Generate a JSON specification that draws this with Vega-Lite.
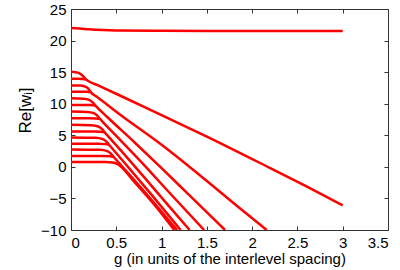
{
  "$schema": "https://vega.github.io/schema/vega-lite/v6.json",
  "width": 317,
  "height": 221,
  "autosize": {"type": "none"},
  "padding": {"left": 71, "top": 9, "right": 12, "bottom": 40},
  "background": "white",
  "config": {
    "font": "Liberation Sans",
    "view": {"stroke": "#333333", "strokeWidth": 1},
    "axis": {"grid": false, "domain": false, "labelFontSize": 15, "titleFontSize": 15, "labelColor": "black", "titleColor": "black", "titleFontWeight": "normal", "tickColor": "#333333", "tickSize": -4, "labelPadding": 9}
  },
  "data": {"values": [
    {"s":"T","o":0,"g":0,"v":22.0},{"s":"T","o":1,"g":0.1,"v":21.9},{"s":"T","o":2,"g":0.2,"v":21.78},{"s":"T","o":3,"g":0.35,"v":21.66},{"s":"T","o":4,"g":0.5,"v":21.6},{"s":"T","o":5,"g":1,"v":21.55},{"s":"T","o":6,"g":2,"v":21.52},{"s":"T","o":7,"g":3,"v":21.5},
    {"s":"P1a","o":0,"g":0,"v":15.05},{"s":"P1a","o":1,"g":0.05,"v":15.0},{"s":"P1a","o":2,"g":0.09,"v":14.85},{"s":"P1a","o":3,"g":0.12,"v":14.55},{"s":"P1a","o":4,"g":0.15,"v":14.1},{"s":"P1a","o":5,"g":0.18,"v":13.7},{"s":"P1a","o":6,"g":0.3,"v":12.9},{"s":"P1a","o":7,"g":0.54,"v":11.3},{"s":"P1a","o":8,"g":1.0,"v":8.2},{"s":"P1a","o":9,"g":1.5,"v":4.8},{"s":"P1a","o":10,"g":2.2,"v":-0.2},{"s":"P1a","o":11,"g":2.6,"v":-3.1},{"s":"P1a","o":12,"g":3.0,"v":-6.1},
    {"s":"P1b","o":0,"g":0,"v":13.95},{"s":"P1b","o":1,"g":0.08,"v":13.95},{"s":"P1b","o":2,"g":0.13,"v":13.9},{"s":"P1b","o":3,"g":0.16,"v":13.85},{"s":"P1b","o":4,"g":0.18,"v":13.7},
    {"s":"P2a","o":0,"g":0,"v":12.9},{"s":"P2a","o":1,"g":0.1,"v":12.88},{"s":"P2a","o":2,"g":0.15,"v":12.75},{"s":"P2a","o":3,"g":0.19,"v":12.4},{"s":"P2a","o":4,"g":0.22,"v":11.8},{"s":"P2a","o":5,"g":0.3,"v":10.95},{"s":"P2a","o":6,"g":0.54,"v":8.3},{"s":"P2a","o":7,"g":1.0,"v":3.5},{"s":"P2a","o":8,"g":1.48,"v":-2.0},{"s":"P2a","o":9,"g":1.8,"v":-5.8},{"s":"P2a","o":10,"g":2.16,"v":-10},
    {"s":"P2b","o":0,"g":0,"v":11.9},{"s":"P2b","o":1,"g":0.12,"v":11.9},{"s":"P2b","o":2,"g":0.18,"v":11.88},{"s":"P2b","o":3,"g":0.22,"v":11.8},
    {"s":"P3a","o":0,"g":0,"v":10.85},{"s":"P3a","o":1,"g":0.14,"v":10.8},{"s":"P3a","o":2,"g":0.2,"v":10.6},{"s":"P3a","o":3,"g":0.24,"v":10.2},{"s":"P3a","o":4,"g":0.27,"v":9.7},{"s":"P3a","o":5,"g":0.4,"v":7.9},{"s":"P3a","o":6,"g":0.7,"v":3.9},{"s":"P3a","o":7,"g":1.0,"v":-0.2},{"s":"P3a","o":8,"g":1.3,"v":-4.4},{"s":"P3a","o":9,"g":1.7,"v":-10},
    {"s":"P3b","o":0,"g":0,"v":9.8},{"s":"P3b","o":1,"g":0.15,"v":9.8},{"s":"P3b","o":2,"g":0.22,"v":9.78},{"s":"P3b","o":3,"g":0.27,"v":9.7},
    {"s":"P4a","o":0,"g":0,"v":8.75},{"s":"P4a","o":1,"g":0.18,"v":8.7},{"s":"P4a","o":2,"g":0.25,"v":8.5},{"s":"P4a","o":3,"g":0.29,"v":8.1},{"s":"P4a","o":4,"g":0.32,"v":7.6},{"s":"P4a","o":5,"g":0.5,"v":4.9},{"s":"P4a","o":6,"g":0.8,"v":0.4},{"s":"P4a","o":7,"g":1.1,"v":-4.3},{"s":"P4a","o":8,"g":1.47,"v":-10},
    {"s":"P4b","o":0,"g":0,"v":7.7},{"s":"P4b","o":1,"g":0.2,"v":7.7},{"s":"P4b","o":2,"g":0.28,"v":7.67},{"s":"P4b","o":3,"g":0.32,"v":7.6},
    {"s":"P5a","o":0,"g":0,"v":6.65},{"s":"P5a","o":1,"g":0.22,"v":6.6},{"s":"P5a","o":2,"g":0.3,"v":6.4},{"s":"P5a","o":3,"g":0.34,"v":6.0},{"s":"P5a","o":4,"g":0.37,"v":5.5},{"s":"P5a","o":5,"g":0.55,"v":2.6},{"s":"P5a","o":6,"g":0.8,"v":-1.5},{"s":"P5a","o":7,"g":1.05,"v":-5.7},{"s":"P5a","o":8,"g":1.31,"v":-10},
    {"s":"P5b","o":0,"g":0,"v":5.6},{"s":"P5b","o":1,"g":0.25,"v":5.6},{"s":"P5b","o":2,"g":0.33,"v":5.57},{"s":"P5b","o":3,"g":0.37,"v":5.5},
    {"s":"P6a","o":0,"g":0,"v":4.65},{"s":"P6a","o":1,"g":0.27,"v":4.6},{"s":"P6a","o":2,"g":0.35,"v":4.4},{"s":"P6a","o":3,"g":0.39,"v":4.0},{"s":"P6a","o":4,"g":0.42,"v":3.5},{"s":"P6a","o":5,"g":0.6,"v":0.5},{"s":"P6a","o":6,"g":0.9,"v":-4.6},{"s":"P6a","o":7,"g":1.21,"v":-10},
    {"s":"P6b","o":0,"g":0,"v":3.65},{"s":"P6b","o":1,"g":0.3,"v":3.65},{"s":"P6b","o":2,"g":0.38,"v":3.6},{"s":"P6b","o":3,"g":0.42,"v":3.5},
    {"s":"P7a","o":0,"g":0,"v":2.75},{"s":"P7a","o":1,"g":0.32,"v":2.7},{"s":"P7a","o":2,"g":0.4,"v":2.5},{"s":"P7a","o":3,"g":0.44,"v":2.1},{"s":"P7a","o":4,"g":0.47,"v":1.6},{"s":"P7a","o":5,"g":0.65,"v":-1.3},{"s":"P7a","o":6,"g":0.9,"v":-5.4},{"s":"P7a","o":7,"g":1.17,"v":-10},
    {"s":"P7b","o":0,"g":0,"v":1.7},{"s":"P7b","o":1,"g":0.35,"v":1.7},{"s":"P7b","o":2,"g":0.43,"v":1.67},{"s":"P7b","o":3,"g":0.47,"v":1.6},
    {"s":"S","o":0,"g":0,"v":0.75},{"s":"S","o":1,"g":0.38,"v":0.75},{"s":"S","o":2,"g":0.46,"v":0.7},{"s":"S","o":3,"g":0.52,"v":0.4},{"s":"S","o":4,"g":0.7,"v":-2.4},{"s":"S","o":5,"g":0.95,"v":-6.5},{"s":"S","o":6,"g":1.14,"v":-10}
  ]},
  "layer": [
    {
      "mark": {"type": "line", "color": "#ff0000", "strokeWidth": 2.5, "clip": true, "interpolate": "monotone"},
      "encoding": {
        "x": {"field": "g", "type": "quantitative", "scale": {"domain": [0, 3.5], "nice": false}, "axis": {"values": [0, 0.5, 1, 1.5, 2, 2.5, 3, 3.5], "format": "~g", "title": "g (in units of the interlevel spacing)", "titlePadding": 1}},
        "y": {"field": "v", "type": "quantitative", "scale": {"domain": [-10, 25], "nice": false}, "axis": {"values": [-10, -5, 0, 5, 10, 15, 20, 25], "title": "Re[wᵢ]", "titleFontSize": 17, "titlePadding": 6, "titleY": 101}},
        "detail": {"field": "s"},
        "order": {"field": "o", "type": "quantitative"}
      }
    },
    {
      "mark": {"type": "line", "opacity": 0},
      "encoding": {
        "x": {"field": "g", "type": "quantitative", "scale": {"domain": [0, 3.5], "nice": false}, "axis": {"orient": "top", "values": [0, 0.5, 1, 1.5, 2, 2.5, 3, 3.5], "labels": false, "title": null}},
        "y": {"field": "v", "type": "quantitative", "scale": {"domain": [-10, 25], "nice": false}, "axis": {"orient": "right", "values": [-10, -5, 0, 5, 10, 15, 20, 25], "labels": false, "title": null}},
        "detail": {"field": "s"}
      }
    }
  ],
  "resolve": {"axis": {"x": "independent", "y": "independent"}}
}
